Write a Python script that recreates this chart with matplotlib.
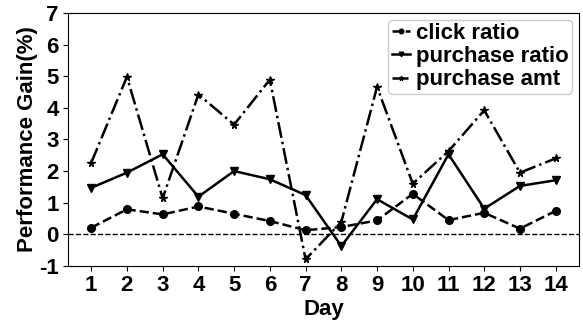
import matplotlib
matplotlib.use('Agg')
import matplotlib.pyplot as plt

plt.rcParams['font.family'] = ['Liberation Sans', 'DejaVu Sans']
plt.rcParams['font.weight'] = 'bold'
plt.rcParams['axes.unicode_minus'] = False

days = list(range(1, 15))
click_ratio = [0.21, 0.79, 0.63, 0.88, 0.65, 0.42, 0.13, 0.23, 0.44, 1.28, 0.45, 0.68, 0.18, 0.74]
purchase_ratio = [1.47, 1.95, 2.53, 1.19, 2.0, 1.74, 1.24, -0.37, 1.11, 0.47, 2.53, 0.81, 1.53, 1.71]
purchase_amt = [2.26, 4.98, 1.14, 4.42, 3.47, 4.89, -0.79, 0.39, 4.66, 1.6, 2.63, 3.92, 1.95, 2.4]

fig = plt.figure(figsize=(5.83, 3.22), dpi=100)
ax = fig.add_axes([0.1166, 0.174, 0.8764, 0.786])

ax.plot(days, click_ratio, color='black', linestyle='--', marker='o', markersize=5.5,
        linewidth=1.8, label='click ratio')
ax.plot(days, purchase_ratio, color='black', linestyle='-', marker='v', markersize=5.5,
        linewidth=1.8, label='purchase ratio')
ax.plot(days, purchase_amt, color='black', linestyle='-.', marker='*', markersize=5.5,
        linewidth=1.8, label='purchase amt')
ax.axhline(0, color='black', linestyle='--', linewidth=1)

ax.set_ylim(-1, 7)
ax.set_xticks(days)
ax.set_yticks(range(-1, 8))
ax.tick_params(labelsize=16, pad=3)
for lab in ax.get_xticklabels() + ax.get_yticklabels():
    lab.set_fontweight('bold')
ax.set_xlabel('Day', fontsize=16, fontweight='bold', labelpad=2)
ax.set_ylabel('Performance Gain(%)', fontsize=16, fontweight='bold', labelpad=1)

ax.legend(loc='upper right', prop={'weight': 'bold', 'size': 16},
          handlelength=0.8, handletextpad=0.3, labelspacing=0.1, borderpad=0.15,
          borderaxespad=0.3, framealpha=1, markerscale=0.6)

fig.savefig('out.png', dpi=100)
